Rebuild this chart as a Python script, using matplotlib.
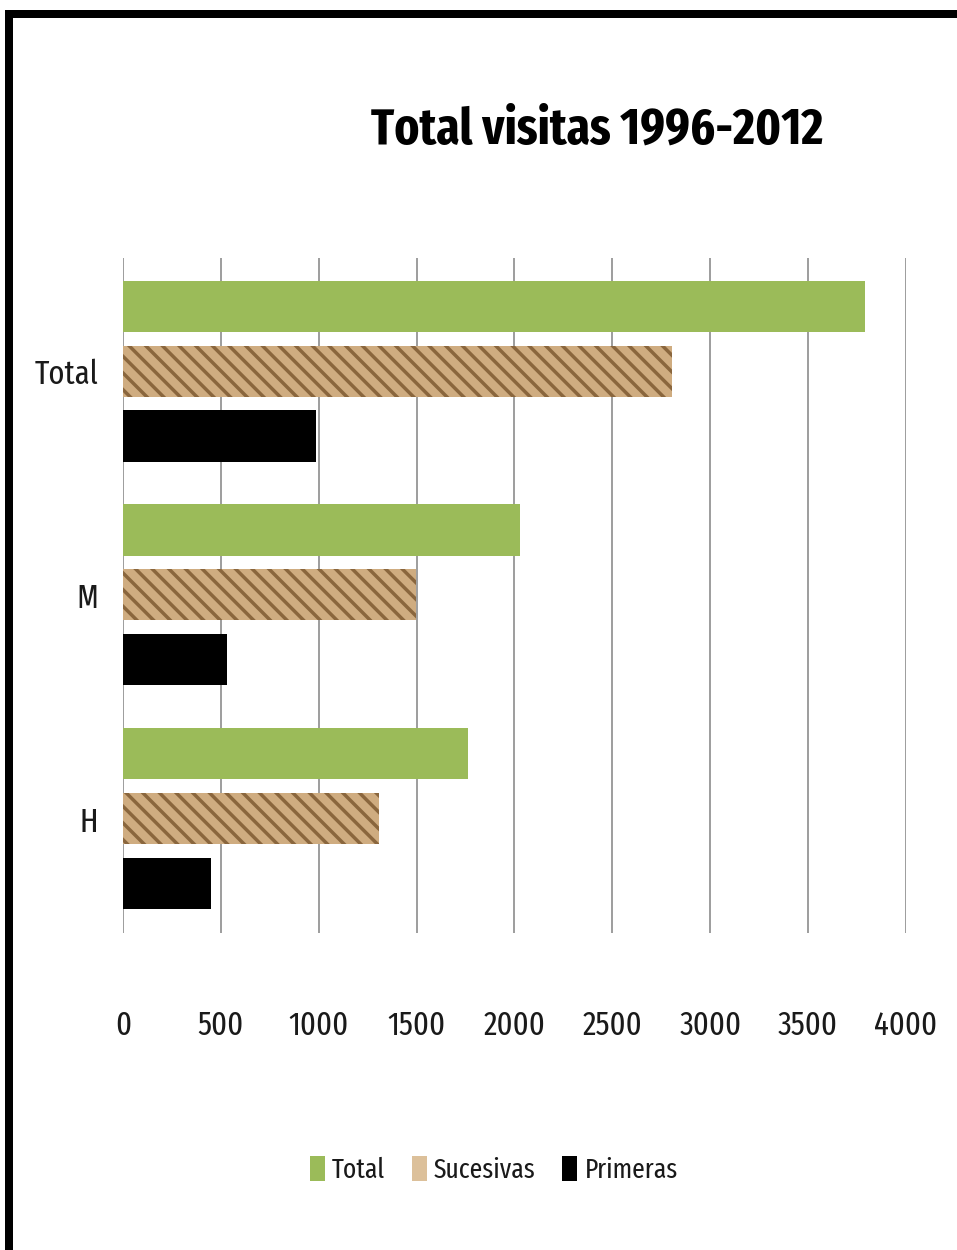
import matplotlib
matplotlib.use("Agg")
import matplotlib.pyplot as plt
import numpy as np
from matplotlib.patches import Rectangle, Patch

# ----------------- datos -----------------
categorias = ["H", "M", "Total"]
total = [1762, 2028, 3790]
sucesivas = [1310, 1495, 2805]
primeras = [452, 533, 985]
xticks = [0, 500, 1000, 1500, 2000, 2500, 3000, 3500, 4000]

FUENTE = ["Fira Sans Extra Condensed", "Carlito", "DejaVu Sans"]
plt.rcParams["font.family"] = FUENTE
plt.rcParams["hatch.linewidth"] = 2.5

VERDE = "#9bbb59"
TAN = "#cfac80"
MARRON = "#8a663d"
TEXTO = "#1a1a1a"

# ----------------- figura -----------------
fig = plt.figure(figsize=(9.57, 12.5), dpi=100)
ax = fig.add_axes([0.1285, 0.2536, 0.8182, 0.54])

y = np.arange(len(categorias))
alto = 0.228
paso = 0.29

ax.barh(y + paso, total, height=alto, color=VERDE, label="Total", zorder=3)
ax.barh(y, sucesivas, height=alto, color=TAN, edgecolor=MARRON, hatch="\\\\",
        linewidth=0, label="Sucesivas", zorder=3)
ax.barh(y - paso, primeras, height=alto, color="black", label="Primeras", zorder=3)

ax.set_xlim(0, 4000)
ax.set_ylim(-0.51, 2.505)
ax.set_xticks(xticks)
ax.set_xticklabels([str(v) for v in xticks], fontsize=24, color=TEXTO)
ax.set_yticks(y)
ax.set_yticklabels(categorias, fontsize=24, color=TEXTO)
ax.tick_params(axis="x", length=0, pad=55)
ax.tick_params(axis="y", length=0, pad=18)
ax.grid(axis="x", color="#8c8c8c", linewidth=1.2, zorder=0)
for s in ax.spines.values():
    s.set_visible(False)

fig.text(0.624, 0.8955, "Total visitas 1996-2012", ha="center", va="center",
         fontsize=37, fontweight="bold", color="black")

handles = [Patch(facecolor=VERDE), Patch(facecolor="#dcc09a"), Patch(facecolor="black")]
leg = fig.legend(handles, ["Total", "Sucesivas", "Primeras"], loc="center",
                 bbox_to_anchor=(0.516, 0.064), ncol=3, frameon=False, fontsize=20,
                 handlelength=0.55, handleheight=1.0, handletextpad=0.25, columnspacing=0.95)
for t in leg.get_texts():
    t.set_color(TEXTO)

# marco negro (izquierda y arriba)
fig.add_artist(Rectangle((5 / 957, 0), 8 / 957, 1 - 10 / 1250, transform=fig.transFigure,
                         facecolor="black", edgecolor="none"))
fig.add_artist(Rectangle((5 / 957, 1 - 18 / 1250), 1, 8 / 1250, transform=fig.transFigure,
                         facecolor="black", edgecolor="none"))

fig.savefig("out.png", dpi=100, facecolor="white")
